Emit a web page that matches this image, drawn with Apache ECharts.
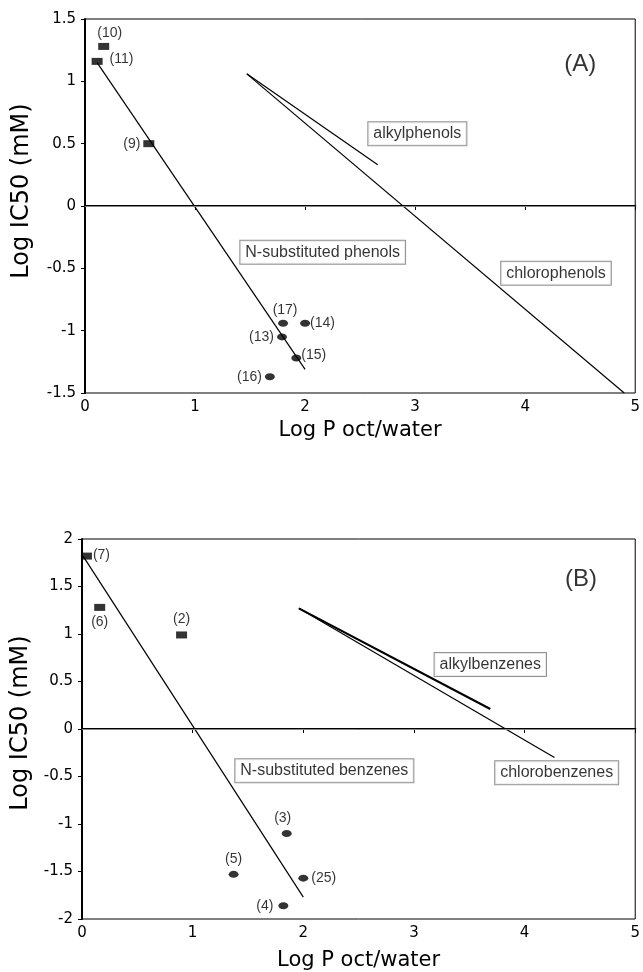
<!DOCTYPE html>
<html>
<head>
<meta charset="utf-8">
<script src="https://cdn.jsdelivr.net/npm/echarts@6/dist/echarts.min.js"></script>
<style>
  html, body { margin: 0; padding: 0; background: #fff; }
  #chart { width: 643px; height: 972px; }
</style>
</head>
<body>
<div id="chart"></div>
<script>
// panel A: phenols
var phenolSquareNames = ['(10)', '(11)', '(9)'];
var phenolSquareX = [0.17, 0.11, 0.58];
var phenolSquareY = [1.28, 1.16, 0.5];
var phenolCircleNames = ['(17)', '(14)', '(13)', '(15)', '(16)'];
var phenolCircleX = [1.80, 2.00, 1.79, 1.92, 1.68];
var phenolCircleY = [-0.94, -0.94, -1.05, -1.22, -1.37];
var nPhenolLineX = [0.11, 2.0];
var nPhenolLineY = [1.15, -1.31];
var alkylphenolX = [1.47, 2.66];
var alkylphenolY = [1.06, 0.33];
var chlorophenolX = [1.47, 4.90];
var chlorophenolY = [1.06, -1.50];

// panel B: benzenes
var benzSquareNames = ['(7)', '(6)', '(2)'];
var benzSquareX = [0.04, 0.16, 0.90];
var benzSquareY = [1.82, 1.28, 0.99];
var benzCircleNames = ['(3)', '(5)', '(25)', '(4)'];
var benzCircleX = [1.85, 1.37, 2.00, 1.82];
var benzCircleY = [-1.10, -1.53, -1.57, -1.86];
var nBenzLineX = [0.01, 2.0];
var nBenzLineY = [1.82, -1.77];
var alkylbenzX = [1.96, 3.69];
var alkylbenzY = [1.27, 0.21];
var chlorobenzX = [1.96, 4.27];
var chlorobenzY = [1.27, -0.30];

// boxed / plain annotations, placed in data units
var notesA = ['alkylphenols', 'N-substituted phenols', 'chlorophenols'];
var notesAX = [3.02, 2.16, 4.28];
var notesAY = [0.58, -0.37, -0.54];
var notesB = ['alkylbenzenes', 'N-substituted benzenes', 'chlorobenzenes'];
var notesBX = [3.69, 2.19, 4.29];
var notesBY = [0.68, -0.44, -0.46];
var panelTags = ['(A)', '(B)'];
var panelTagX = [4.50, 4.51];
var panelTagY = [1.14, 1.58];

var xTicks = [0, 1, 2, 3, 4, 5];

// where each point's number sits (style only)
var labelSide = {
  '(10)': ['top', [6, 0]], '(11)': ['right', [4, -2]], '(9)': ['left', [0, 0]],
  '(17)': ['top', [2, 0]], '(14)': ['right', [-3, 0]], '(13)': ['left', [0, 0]],
  '(15)': ['right', [-3, -3]], '(16)': ['left', [0, 0]],
  '(7)': ['right', [-2, -1]], '(6)': ['bottom', [0, 1]], '(2)': ['top', [0, -2]],
  '(3)': ['top', [-4, -2]], '(5)': ['top', [0, -2]], '(25)': ['right', [0, 0]], '(4)': ['left', [-2, 0]]
};

var ellipse = 'path://M0,5 A10,5 0 1,1 20,5 A10,5 0 1,1 0,5 Z';
var sansFont = 'Liberation Sans';

function zip(xs, ys) {
  return xs.map(function (x, i) { return [x, ys[i]]; });
}

function pointSeries(idx, names, xs, ys, symbol, size) {
  return {
    type: 'scatter',
    xAxisIndex: idx, yAxisIndex: idx,
    symbol: symbol,
    symbolSize: size,
    itemStyle: { color: '#000' },
    data: names.map(function (n, i) {
      var s = labelSide[n];
      return {
        name: n, value: [xs[i], ys[i]],
        label: { show: true, position: s[0], offset: s[1], distance: 3 }
      };
    }),
    label: {
      formatter: '{b}', color: '#000', fontFamily: sansFont, fontSize: 14
    },
    z: 5
  };
}

function lineSeries(idx, xs, ys, width) {
  return {
    type: 'line',
    xAxisIndex: idx, yAxisIndex: idx,
    symbol: 'none',
    lineStyle: { color: '#000', width: width || 1.2 },
    data: zip(xs, ys),
    z: 3
  };
}

function noteSeries(idx, names, xs, ys, boxed, size) {
  return {
    type: 'scatter',
    xAxisIndex: idx, yAxisIndex: idx,
    symbol: 'circle',
    symbolSize: 1,
    itemStyle: { color: 'rgba(0,0,0,0)' },
    silent: true,
    data: names.map(function (n, i) { return { name: n, value: [xs[i], ys[i]] }; }),
    label: {
      show: true, position: 'inside', formatter: '{b}',
      color: '#000', fontFamily: sansFont, fontSize: size,
      backgroundColor: boxed ? '#fff' : 'transparent',
      borderColor: boxed ? '#777' : 'transparent',
      borderWidth: boxed ? 1 : 0,
      padding: boxed ? [4, 5, 3, 5] : 0
    },
    z: 6
  };
}

function zeroLine(idx) {
  return {
    type: 'line', xAxisIndex: idx, yAxisIndex: idx, data: [],
    markLine: {
      silent: true, symbol: 'none', label: { show: false },
      lineStyle: { color: '#888', width: 1, type: 'solid' },
      data: [{ yAxis: 0 }]
    }
  };
}

function xAxisFor(idx, gap) {
  return {
    type: 'value', gridIndex: idx, min: 0, max: 5, interval: 1,
    name: 'Log P oct/water', nameLocation: 'middle', nameGap: gap,
    nameTextStyle: { fontFamily: 'DejaVu Sans', fontSize: 21, color: '#000' },
    axisLine: { show: true, lineStyle: { color: '#000', width: 2 } },
    axisTick: { show: true, length: 4, lineStyle: { color: '#000', width: 1 } },
    axisLabel: {
      color: '#000', fontFamily: 'DejaVu Sans', fontSize: 15, margin: 7,
      formatter: function (v) { return xTicks.indexOf(v) >= 0 ? String(v) : ''; }
    },
    splitLine: { show: false }
  };
}

function yAxisFor(idx, lo, hi) {
  return {
    type: 'value', gridIndex: idx, min: lo, max: hi, interval: 0.5,
    axisLine: { show: true, onZero: false, lineStyle: { color: '#000', width: 2 } },
    axisTick: { show: true, length: 4, lineStyle: { color: '#000', width: 1 } },
    axisLabel: { color: '#000', fontFamily: 'DejaVu Sans', fontSize: 15, margin: 9 },
    splitLine: { show: false }
  };
}

var chart = echarts.init(document.getElementById('chart'), null, { renderer: 'canvas' });

var option = {
  backgroundColor: '#fff',
  animation: false,
  grid: [
    { left: 85, top: 19, width: 555, height: 374, show: true, borderColor: '#000', borderWidth: 1, backgroundColor: 'transparent' },
    { left: 82, top: 539, width: 556, height: 380, show: true, borderColor: '#000', borderWidth: 1, backgroundColor: 'transparent' }
  ],
  xAxis: [xAxisFor(0, 27), xAxisFor(1, 31)],
  yAxis: [yAxisFor(0, -1.5, 1.5), yAxisFor(1, -2, 2)],
  graphic: [
    {
      type: 'text', x: 22, y: 191, rotation: Math.PI / 2,
      style: {
        text: 'Log IC50 (mM)', fill: '#000', fontFamily: 'DejaVu Sans', fontSize: 24,
        textAlign: 'center', textVerticalAlign: 'middle', align: 'center', verticalAlign: 'middle'
      }
    },
    {
      type: 'text', x: 21, y: 723, rotation: Math.PI / 2,
      style: {
        text: 'Log IC50 (mM)', fill: '#000', fontFamily: 'DejaVu Sans', fontSize: 24,
        textAlign: 'center', textVerticalAlign: 'middle', align: 'center', verticalAlign: 'middle'
      }
    }
  ],
  series: [
    zeroLine(0),
    lineSeries(0, nPhenolLineX, nPhenolLineY),
    lineSeries(0, alkylphenolX, alkylphenolY),
    lineSeries(0, chlorophenolX, chlorophenolY),
    pointSeries(0, phenolSquareNames, phenolSquareX, phenolSquareY, 'rect', [11, 7]),
    pointSeries(0, phenolCircleNames, phenolCircleX, phenolCircleY, ellipse, [10, 7]),
    noteSeries(0, notesA, notesAX, notesAY, true, 16),
    noteSeries(0, [panelTags[0]], [panelTagX[0]], [panelTagY[0]], false, 24),

    zeroLine(1),
    lineSeries(1, nBenzLineX, nBenzLineY),
    lineSeries(1, alkylbenzX, alkylbenzY, 2.2),
    lineSeries(1, chlorobenzX, chlorobenzY),
    pointSeries(1, benzSquareNames, benzSquareX, benzSquareY, 'rect', [11, 7]),
    pointSeries(1, benzCircleNames, benzCircleX, benzCircleY, ellipse, [10, 7]),
    noteSeries(1, notesB, notesBX, notesBY, true, 16),
    noteSeries(1, [panelTags[1]], [panelTagX[1]], [panelTagY[1]], false, 24)
  ]
};

chart.setOption(option);
</script>
</body>
</html>
